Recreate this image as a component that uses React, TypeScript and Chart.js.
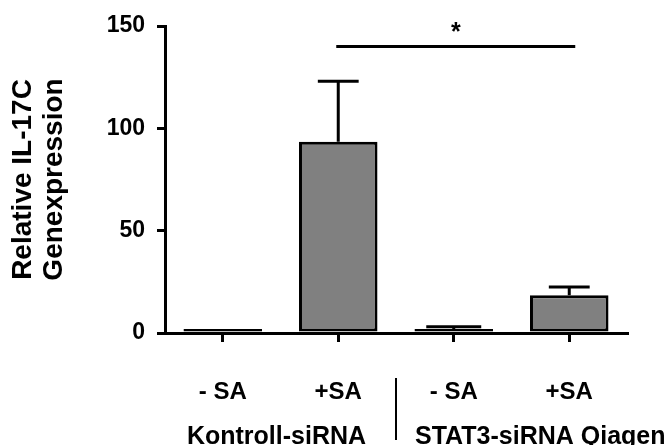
import React, { useEffect, useRef } from "react";
import { Chart, registerables } from "chart.js";

Chart.register(...registerables);

const categories = ["- SA", "+SA", "- SA", "+SA"];
const groupLabels = ["Kontroll-siRNA", "STAT3-siRNA Qiagen"];
const values = [2, 93.5, 2, 18.5];
const errors = [0, 29.5, 1, 4];
const yTicks = [0, 50, 100, 150];
const yTitle = ["Relative IL-17C", "Genexpression"];
const sigLevel = 140;
const sigLabel = "*";

const FONT = "'Liberation Sans', Arial, sans-serif";

const extrasPlugin = {
  id: "extras",
  afterDatasetsDraw(chart: any) {
    const { ctx, scales } = chart;
    const x = scales.x;
    const y = scales.y;
    const meta = chart.getDatasetMeta(0);
    ctx.save();
    ctx.strokeStyle = "#000";
    ctx.lineWidth = 3;
    ctx.lineCap = "butt";
    values.forEach((v, i) => {
      const e = errors[i];
      if (!e) return;
      const cx = x.getPixelForValue(i);
      const bw = meta.data[i].width;
      const half = e < 2 ? bw * 0.35 : bw * 0.26;
      const yb = y.getPixelForValue(v);
      const yt = y.getPixelForValue(v + e);
      ctx.beginPath();
      ctx.moveTo(cx, yb);
      ctx.lineTo(cx, yt);
      ctx.moveTo(cx - half, yt);
      ctx.lineTo(cx + half, yt);
      ctx.stroke();
    });
    ctx.restore();
  },
  afterDraw(chart: any) {
    const { ctx, scales } = chart;
    const x = scales.x;
    const y = scales.y;
    ctx.save();
    // significance bar
    const ys = y.getPixelForValue(sigLevel);
    const x1 = x.getPixelForValue(1) - 2;
    const x2 = x.getPixelForValue(3) + 6;
    ctx.strokeStyle = "#000";
    ctx.lineWidth = 3;
    ctx.beginPath();
    ctx.moveTo(x1, ys);
    ctx.lineTo(x2, ys);
    ctx.stroke();
    ctx.fillStyle = "#000";
    ctx.font = `bold 25px ${FONT}`;
    ctx.textAlign = "center";
    ctx.textBaseline = "alphabetic";
    ctx.fillText(sigLabel, (x1 + x2) / 2, ys - 6);

    // group labels
    const sepX = (x.getPixelForValue(1) + x.getPixelForValue(2)) / 2;
    ctx.lineWidth = 2;
    ctx.beginPath();
    ctx.moveTo(sepX, 378);
    ctx.lineTo(sepX, 440);
    ctx.stroke();
    ctx.font = `bold 25px ${FONT}`;
    ctx.textAlign = "center";
    ctx.fillText(groupLabels[0], (x.getPixelForValue(0) + x.getPixelForValue(1)) / 2 - 4, 444);
    ctx.textAlign = "left";
    ctx.fillText(groupLabels[1], sepX + 19, 444);
    ctx.restore();
  },
};

export default function App() {
  const ref = useRef<HTMLCanvasElement | null>(null);
  useEffect(() => {
    if (!ref.current) return;
    const chart = new Chart(ref.current, {
      type: "bar",
      data: {
        labels: categories,
        datasets: [
          {
            data: values,
            backgroundColor: "#808080",
            borderColor: "#000",
            borderWidth: 3,
            borderSkipped: false,
            categoryPercentage: 1,
            barPercentage: 0.68,
          },
        ],
      },
      options: {
        animation: false,
        responsive: false,
        devicePixelRatio: 1,
        layout: { padding: { top: 26, right: 43, left: 0, bottom: 0 } },
        plugins: { legend: { display: false }, tooltip: { enabled: false } },
        scales: {
          x: {
            offset: true,
            border: { display: true, color: "#000", width: 3 },
            grid: {
              offset: false,
              drawOnChartArea: false,
              drawTicks: true,
              tickLength: 9,
              color: "#000",
              lineWidth: 3,
            },
            ticks: {
              color: "#000",
              font: { family: FONT, size: 24, weight: "bold" },
              padding: 36,
            },
            afterFit: (s: any) => {
              s.height = 112;
            },
          },
          y: {
            min: 0,
            max: 150,
            afterBuildTicks: (s: any) => {
              s.ticks = yTicks.map((v) => ({ value: v }));
            },
            border: { display: true, color: "#000", width: 3 },
            grid: {
              drawOnChartArea: false,
              drawTicks: true,
              tickLength: 8,
              color: "#000",
              lineWidth: 3,
            },
            ticks: {
              color: "#000",
              font: { family: FONT, size: 23, weight: "bold" },
              padding: 12,
            },
            title: {
              display: true,
              text: yTitle,
              color: "#000",
              font: { family: FONT, size: 28, weight: "bold", lineHeight: 1.13 },
              padding: { top: 7, bottom: 0 },
            },
            afterFit: (s: any) => {
              s.width = 165;
            },
          },
        },
      },
      plugins: [extrasPlugin],
    });
    return () => chart.destroy();
  }, []);
  return (
    <div style={{ position: "fixed", left: 0, top: 0, width: 670, height: 445, background: "#fff" }}>
      <canvas ref={ref} width={670} height={445} />
    </div>
  );
}
